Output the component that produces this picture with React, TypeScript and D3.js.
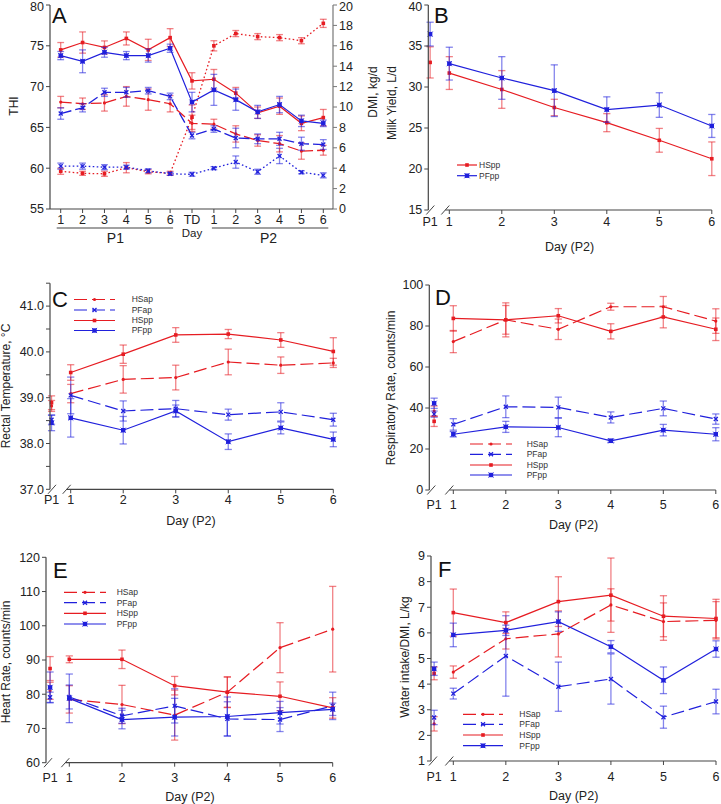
import React from "react";
import * as d3 from "d3";

const RED = "#e61c22";
const BLUE = "#2020dc";
const AXIS = "#454545";
const FONT = "'Liberation Sans', Arial, Helvetica, sans-serif";
const TICK_FS = 12.5;

// ---------- Panel A data ----------
const aCategories = ["1", "2", "3", "4", "5", "6", "TD", "1", "2", "3", "4", "5", "6"];
const aLeftTicks = [55, 60, 65, 70, 75, 80];
const aRightTicks = [0, 2, 4, 6, 8, 10, 12, 14, 16, 18, 20];
const aHSsolid = [74.5, 75.4, 74.8, 75.9, 74.5, 76.0, 70.7, 70.9, 69.2, 66.8, 67.6, 65.5, 66.2];
const aHSsolidErr = [0.9, 1.3, 0.8, 0.8, 1.3, 1.1, 1.0, 1.2, 0.7, 0.7, 1.0, 0.9, 1.0];
const aPFsolid = [73.8, 73.1, 74.2, 73.8, 73.8, 74.7, 68.1, 69.6, 68.4, 66.9, 67.8, 65.8, 65.5];
const aPFsolidErr = [0.5, 1.4, 0.6, 0.5, 0.8, 0.5, 1.2, 1.9, 1.3, 0.8, 1.0, 0.7, 0.4];
const aHSdashed = [68.1, 67.9, 68.0, 68.8, 68.4, 67.9, 65.5, 65.4, 64.2, 63.4, 63.0, 62.1, 62.2];
const aHSdashedErr = [0.7, 0.7, 1.0, 1.2, 1.3, 1.0, 1.0, 0.6, 1.0, 0.7, 1.0, 1.0, 0.6];
const aPFdashed = [66.7, 67.4, 69.3, 69.3, 69.5, 68.8, 64.0, 64.8, 63.7, 63.6, 63.6, 63.0, 62.9];
const aPFdashedErr = [0.7, 0.5, 0.5, 0.6, 0.4, 0.4, 0.4, 0.4, 1.2, 0.6, 0.8, 0.8, 0.6];
const aHSdotted = [3.7, 3.5, 3.45, 4.05, 3.65, 3.5, 9.0, 16.0, 17.2, 16.9, 16.8, 16.5, 18.2];
const aHSdottedErr = [0.3, 0.2, 0.25, 0.5, 0.2, 0.2, 1.2, 0.5, 0.3, 0.3, 0.3, 0.3, 0.4];
const aPFdotted = [4.2, 4.2, 4.1, 4.1, 3.75, 3.45, 3.4, 4.0, 4.6, 3.65, 5.2, 3.6, 3.3];
const aPFdottedErr = [0.3, 0.3, 0.25, 0.2, 0.2, 0.15, 0.2, 0.15, 0.6, 0.25, 0.75, 0.15, 0.25];

// ---------- Panels B-F shared categories ----------
const dayCategories = ["P1", "1", "2", "3", "4", "5", "6"];

// Panel B
const bTicks = [15, 20, 25, 30, 35, 40];
const bHSpp = [33.0, 31.7, 29.7, 27.5, 25.65, 23.5, 21.25];
const bHSppErr = [1.9, 2.0, 2.3, 1.0, 1.1, 1.45, 2.05];
const bPFpp = [36.45, 32.85, 31.1, 29.55, 27.25, 27.8, 25.25];
const bPFppErr = [1.45, 2.0, 2.6, 3.15, 1.55, 1.5, 1.4];

// Panel C
const cTicks = [37, 38, 39, 40, 41];
const cMinorTicks = [37.5, 38.5, 39.5, 40.5, 41.5];
const cHSap = [38.82, 39.09, 39.4, 39.44, 39.78, 39.71, 39.76];
const cHSapErr = [0.12, 0.2, 0.3, 0.27, 0.28, 0.18, 0.1];
const cPFap = [38.52, 39.05, 38.71, 38.76, 38.63, 38.69, 38.52];
const cPFapErr = [0.1, 0.4, 0.22, 0.18, 0.12, 0.2, 0.14];
const cHSpp = [38.89, 39.55, 39.95, 40.37, 40.39, 40.26, 40.01];
const cHSppErr = [0.15, 0.17, 0.2, 0.16, 0.1, 0.16, 0.3];
const cPFpp = [38.45, 38.56, 38.29, 38.71, 38.04, 38.34, 38.09];
const cPFppErr = [0.17, 0.42, 0.3, 0.13, 0.17, 0.13, 0.16];

// Panel D
const dTicks = [0, 20, 40, 60, 80, 100];
const dHSap = [38.5, 72.4, 83.0, 78.4, 89.4, 89.4, 82.4];
const dHSapErr = [2.5, 5.4, 7.0, 5.0, 1.7, 5.0, 6.0];
const dPFap = [37.0, 32.0, 40.6, 40.3, 35.4, 39.8, 34.6];
const dPFapErr = [1.5, 2.8, 5.3, 5.0, 2.7, 3.6, 2.5];
const dHSpp = [33.5, 83.7, 83.0, 85.0, 77.4, 84.4, 78.4];
const dHSppErr = [2.5, 6.2, 8.3, 3.5, 3.7, 5.3, 5.5];
const dPFpp = [42.3, 27.2, 30.8, 30.5, 24.0, 29.2, 27.2];
const dPFppErr = [2.5, 1.3, 2.7, 4.5, 0.8, 2.8, 3.2];

// Panel E
const eTicks = [60, 70, 80, 90, 100, 110, 120];
const eHSap = [81.0, 78.5, 77.0, 73.9, 80.6, 93.6, 99.0];
const eHSapErr = [2.5, 4.0, 5.6, 7.3, 4.5, 7.3, 12.5];
const ePFap = [79.1, 79.2, 73.7, 76.6, 72.8, 72.6, 76.6];
const ePFapErr = [1.5, 3.5, 2.2, 5.0, 5.0, 3.5, 4.0];
const eHSpp = [87.5, 90.2, 90.2, 82.5, 80.6, 79.4, 76.0];
const eHSppErr = [3.5, 1.0, 2.7, 2.7, 4.4, 4.2, 3.0];
const ePFpp = [82.0, 78.8, 72.6, 73.3, 73.5, 74.6, 75.6];
const ePFppErr = [4.5, 7.1, 2.7, 5.5, 5.7, 3.3, 1.8];

// Panel F
const fTicks = [1, 2, 3, 4, 5, 6, 7, 8, 9];
const fHSap = [2.45, 4.47, 5.77, 5.96, 7.09, 6.44, 6.49];
const fHSapErr = [0.28, 0.24, 0.4, 0.9, 0.63, 0.73, 0.73];
const fPFap = [2.7, 3.63, 5.1, 3.9, 4.2, 2.71, 3.32];
const fPFapErr = [0.28, 0.21, 1.57, 0.96, 0.98, 0.43, 0.48];
const fHSpp = [4.42, 6.79, 6.4, 7.22, 7.47, 6.65, 6.56];
const fHSppErr = [0.25, 0.92, 0.42, 0.97, 1.45, 0.8, 0.75];
const fPFpp = [4.6, 5.92, 6.1, 6.44, 5.46, 4.15, 5.37];
const fPFppErr = [0.26, 0.46, 0.2, 0.38, 0.24, 0.52, 0.32];

type MarkerType = "dot" | "x" | "sq" | "sqx";
type Series = {
  name: string;
  values: number[];
  errors: number[];
  color: string;
  dash: string;
  marker: MarkerType;
};

const DASH = "13,5";

function Marker({ type, cx, cy, color }: { type: MarkerType; cx: number; cy: number; color: string }) {
  if (type === "dot") return <circle cx={cx} cy={cy} r={1.6} fill={color} />;
  if (type === "sq") return <rect x={cx - 1.8} y={cy - 1.8} width={3.6} height={3.6} fill={color} />;
  if (type === "x")
    return (
      <path
        d={`M${cx - 2},${cy - 2}L${cx + 2},${cy + 2}M${cx - 2},${cy + 2}L${cx + 2},${cy - 2}`}
        stroke={color}
        strokeWidth={1.3}
      />
    );
  return (
    <g>
      <rect x={cx - 2.2} y={cy - 2.2} width={4.4} height={4.4} fill={color} />
      <path
        d={`M${cx - 2.6},${cy - 2.6}L${cx + 2.6},${cy + 2.6}M${cx - 2.6},${cy + 2.6}L${cx + 2.6},${cy - 2.6}`}
        stroke={color}
        strokeWidth={0.8}
      />
    </g>
  );
}

function ErrorBar({ x, y0, y1, color, cap = 3.6 }: { x: number; y0: number; y1: number; color: string; cap?: number }) {
  return (
    <g stroke={color} strokeOpacity={0.55} strokeWidth={1.3} fill="none">
      <line x1={x} x2={x} y1={y0} y2={y1} />
      <line x1={x - cap} x2={x + cap} y1={y0} y2={y0} />
      <line x1={x - cap} x2={x + cap} y1={y1} y2={y1} />
    </g>
  );
}

function RotLabel({ text, cx, cy, size = 12 }: { text: string; cx: number; cy: number; size?: number }) {
  return (
    <text
      transform={`translate(${cx},${cy}) rotate(-90)`}
      textAnchor="middle"
      dy="0.35em"
      fontSize={size}
      fill="#222"
    >
      {text}
    </text>
  );
}

// ---------- Panel A ----------
function PanelA() {
  const left = 50,
    right = 333,
    top = 5,
    bottom = 209;
  const x = d3.scaleLinear().domain([0, aCategories.length - 1]).range([60.7, 323.3]);
  const yL = d3.scaleLinear().domain([55, 80]).range([bottom, top]);
  const yR = d3.scaleLinear().domain([0, 20]).range([bottom, top]);
  const groups: { v: number[]; e: number[]; s: any; color: string; dash: string; marker: MarkerType; w: number }[] = [
    { v: aHSdotted, e: aHSdottedErr, s: yR, color: RED, dash: "1.6,2.4", marker: "sq", w: 1.3 },
    { v: aPFdotted, e: aPFdottedErr, s: yR, color: BLUE, dash: "1.6,2.4", marker: "x", w: 1.3 },
    { v: aHSdashed, e: aHSdashedErr, s: yL, color: RED, dash: "11,4", marker: "dot", w: 1.3 },
    { v: aPFdashed, e: aPFdashedErr, s: yL, color: BLUE, dash: "11,4", marker: "x", w: 1.3 },
    { v: aHSsolid, e: aHSsolidErr, s: yL, color: RED, dash: "", marker: "sq", w: 1.2 },
    { v: aPFsolid, e: aPFsolidErr, s: yL, color: BLUE, dash: "", marker: "sqx", w: 1.2 },
  ];
  return (
    <g>
      {groups.map((g, gi) => {
        const line = d3
          .line<number>()
          .x((_, i) => x(i))
          .y((d) => g.s(d));
        return (
          <g key={gi}>
            {g.v.map((d, i) => (
              <ErrorBar key={i} x={x(i)} y0={g.s(d + g.e[i])} y1={g.s(d - g.e[i])} color={g.color} cap={3.4} />
            ))}
            <path d={line(g.v) || ""} fill="none" stroke={g.color} strokeWidth={g.w} strokeDasharray={g.dash} />
            {g.v.map((d, i) => (
              <Marker key={i} type={g.marker} cx={x(i)} cy={g.s(d)} color={g.color} />
            ))}
          </g>
        );
      })}
      {/* axes */}
      <line x1={left} x2={left} y1={top} y2={bottom} stroke={AXIS} strokeWidth={1.2} />
      <line x1={right} x2={right} y1={top} y2={bottom} stroke="#777" strokeWidth={1.2} />
      <line x1={left} x2={right} y1={bottom} y2={bottom} stroke={AXIS} strokeWidth={1.2} />
      {aLeftTicks.map((t) => (
        <g key={t}>
          <line x1={left - 4} x2={left} y1={yL(t)} y2={yL(t)} stroke={AXIS} />
          <text x={left - 6} y={Math.max(yL(t), 6.5)} dy="0.35em" textAnchor="end" fontSize={TICK_FS} fill="#222">
            {t}
          </text>
        </g>
      ))}
      {aRightTicks.map((t) => (
        <g key={t}>
          <line x1={right} x2={right + 4} y1={yR(t)} y2={yR(t)} stroke="#777" />
          <text x={right + 6} y={Math.max(yR(t), 6.5)} dy="0.35em" textAnchor="start" fontSize={TICK_FS} fill="#222">
            {t}
          </text>
        </g>
      ))}
      {aCategories.map((c, i) => (
        <g key={i}>
          <line x1={x(i)} x2={x(i)} y1={bottom} y2={bottom + 4} stroke={AXIS} />
          <text x={x(i)} y={219.5} dy="0.35em" textAnchor="middle" fontSize={TICK_FS} fill="#222">
            {c}
          </text>
        </g>
      ))}
      <line x1={x(0) - 4} x2={x(5) + 3} y1={228} y2={228} stroke={AXIS} strokeWidth={1.2} />
      <line x1={x(7) - 2} x2={x(12) + 5} y1={228} y2={228} stroke={AXIS} strokeWidth={1.2} />
      <text x={(x(0) + x(5)) / 2} y={238} dy="0.35em" textAnchor="middle" fontSize={14} fill="#222">
        P1
      </text>
      <text x={(x(7) + x(12)) / 2} y={238} dy="0.35em" textAnchor="middle" fontSize={14} fill="#222">
        P2
      </text>
      <text x={x(6)} y={232.5} dy="0.35em" textAnchor="middle" fontSize={11.5} fill="#222">
        Day
      </text>
      <text x={52} y={23} fontSize={22} fill="#111">
        A
      </text>
      <RotLabel text="THI" cx={14} cy={106} />
      <RotLabel text="DMI, kg/d" cx={373} cy={92} />
    </g>
  );
}

// ---------- Panels B-F ----------
type PanelProps = {
  letter: string;
  letterX: number;
  letterY: number;
  axisX: number;
  top: number;
  bottom: number;
  x1: number;
  x6: number;
  yDomain: [number, number];
  yTicks: number[];
  yMinor?: number[];
  fmt: (v: number) => string;
  series: Series[];
  legendX0: number;
  legendX1: number;
  legendTextX: number;
  legendY: number[];
  yLabel: string;
  yLabelX: number;
  yLabelY: number;
  tickLabelY: number;
  dayLabelY: number;
};

const P1_POS = 0.635;

function DayPanel(p: PanelProps) {
  const y = d3.scaleLinear().domain(p.yDomain).range([p.bottom, p.top]);
  const x = d3.scaleLinear().domain([1, 6]).range([p.x1, p.x6]);
  const xi = (i: number) => (i === 0 ? x(P1_POS) : x(i));
  const slash = (cx: number) => `M${cx - 4},${p.bottom + 4.5}L${cx + 4},${p.bottom - 4.5}`;
  const breakX2 = p.x1 - 4;
  return (
    <g>
      {p.series.map((s, si) => {
        const line = d3
          .line<number>()
          .x((_, i) => x(i + 1))
          .y((d) => y(d));
        return (
          <g key={si}>
            {s.values.map((d, i) => (
              <ErrorBar key={i} x={xi(i)} y0={y(d + s.errors[i])} y1={y(d - s.errors[i])} color={s.color} />
            ))}
            <path d={line(s.values.slice(1)) || ""} fill="none" stroke={s.color} strokeWidth={1.2} strokeDasharray={s.dash} />
            {s.values.map((d, i) => (
              <Marker key={i} type={s.marker} cx={xi(i)} cy={y(d)} color={s.color} />
            ))}
          </g>
        );
      })}
      <line x1={p.axisX} x2={p.axisX} y1={p.top} y2={p.bottom} stroke={AXIS} strokeWidth={1.2} />
      <line x1={breakX2} x2={p.x6} y1={p.bottom} y2={p.bottom} stroke={AXIS} strokeWidth={1.2} />
      <path d={slash(p.axisX + 2) + slash(breakX2)} stroke={AXIS} strokeWidth={1} fill="none" />
      {p.yTicks.map((t) => (
        <g key={t}>
          <line x1={p.axisX - 4} x2={p.axisX} y1={y(t)} y2={y(t)} stroke={AXIS} />
          <text x={p.axisX - 6} y={Math.max(y(t), 6.5)} dy="0.35em" textAnchor="end" fontSize={TICK_FS} fill="#222">
            {p.fmt(t)}
          </text>
        </g>
      ))}
      {(p.yMinor || []).map((t) => (
        <line key={t} x1={p.axisX - 4} x2={p.axisX} y1={y(t)} y2={y(t)} stroke={AXIS} />
      ))}
      {dayCategories.map((c, i) => (
        <g key={c}>
          {i > 0 && <line x1={xi(i)} x2={xi(i)} y1={p.bottom} y2={p.bottom + 4} stroke={AXIS} />}
          <text x={xi(i)} y={p.tickLabelY} dy="0.35em" textAnchor="middle" fontSize={TICK_FS} fill="#222">
            {c}
          </text>
        </g>
      ))}
      <text x={(p.x1 + p.x6) / 2 - 11} y={p.dayLabelY} dy="0.35em" textAnchor="middle" fontSize={12.5} fill="#222">
        Day (P2)
      </text>
      <text x={p.letterX} y={p.letterY} fontSize={22} fill="#111">
        {p.letter}
      </text>
      <RotLabel text={p.yLabel} cx={p.yLabelX} cy={p.yLabelY} />
      {p.series.map((s, si) => {
        const ly = p.legendY[si];
        if (ly === undefined) return null;
        return (
          <g key={"lg" + si}>
            <line x1={p.legendX0} x2={p.legendX1} y1={ly} y2={ly} stroke={s.color} strokeWidth={1.2} strokeDasharray={s.dash} />
            <Marker type={s.marker} cx={(p.legendX0 + p.legendX1) / 2} cy={ly} color={s.color} />
            <text x={p.legendTextX} y={ly} dy="0.35em" fontSize={8.5} fill="#333">
              {s.name}
            </text>
          </g>
        );
      })}
    </g>
  );
}

function fourSeries(hsap: number[], hsapE: number[], pfap: number[], pfapE: number[], hspp: number[], hsppE: number[], pfpp: number[], pfppE: number[]): Series[] {
  return [
    { name: "HSap", values: hsap, errors: hsapE, color: RED, dash: DASH, marker: "dot" },
    { name: "PFap", values: pfap, errors: pfapE, color: BLUE, dash: DASH, marker: "x" },
    { name: "HSpp", values: hspp, errors: hsppE, color: RED, dash: "", marker: "sq" },
    { name: "PFpp", values: pfpp, errors: pfppE, color: BLUE, dash: "", marker: "sqx" },
  ];
}

export default function App() {
  const f1 = (v: number) => v.toFixed(1);
  const f0 = (v: number) => String(v);
  return (
    <svg
      width={721}
      height={804}
      viewBox="0 0 721 804"
      style={{ position: "absolute", left: 0, top: 0, background: "#fff", fontFamily: FONT }}
    >
      <rect width={721} height={804} fill="#fff" />
      <PanelA />
      <DayPanel
        letter="B"
        letterX={434}
        letterY={23}
        axisX={428.3}
        top={5}
        bottom={210}
        x1={449.3}
        x6={711.8}
        yDomain={[15, 40]}
        yTicks={bTicks}
        fmt={f0}
        series={[
          { name: "HSpp", values: bHSpp, errors: bHSppErr, color: RED, dash: "", marker: "sq" },
          { name: "PFpp", values: bPFpp, errors: bPFppErr, color: BLUE, dash: "", marker: "sqx" },
        ]}
        legendX0={457}
        legendX1={477}
        legendTextX={479}
        legendY={[165, 175.7]}
        yLabel="Milk Yield, L/d"
        yLabelX={392}
        yLabelY={103}
        tickLabelY={221.7}
        dayLabelY={246.5}
      />
      <DayPanel
        letter="C"
        letterX={52}
        letterY={307}
        axisX={50}
        top={283.2}
        bottom={489.3}
        x1={70.7}
        x6={333.3}
        yDomain={[37, 41.5]}
        yTicks={cTicks}
        yMinor={cMinorTicks}
        fmt={f1}
        series={fourSeries(cHSap, cHSapErr, cPFap, cPFapErr, cHSpp, cHSppErr, cPFpp, cPFppErr)}
        legendX0={74}
        legendX1={115}
        legendTextX={131.7}
        legendY={[299.5, 310, 320.5, 330.5]}
        yLabel="Rectal Temperature, °C"
        yLabelX={6}
        yLabelY={386}
        tickLabelY={500}
        dayLabelY={521}
      />
      <DayPanel
        letter="D"
        letterX={435}
        letterY={305}
        axisX={429.3}
        top={285}
        bottom={490}
        x1={453.3}
        x6={715.8}
        yDomain={[0, 100]}
        yTicks={dTicks}
        fmt={f0}
        series={fourSeries(dHSap, dHSapErr, dPFap, dPFapErr, dHSpp, dHSppErr, dPFpp, dPFppErr)}
        legendX0={470}
        legendX1={512}
        legendTextX={526.7}
        legendY={[444, 454.3, 465, 475]}
        yLabel="Respiratory Rate, counts/min"
        yLabelX={391}
        yLabelY={388}
        tickLabelY={505}
        dayLabelY={525}
      />
      <DayPanel
        letter="E"
        letterX={53}
        letterY={578}
        axisX={46}
        top={557.3}
        bottom={762.7}
        x1={69.3}
        x6={332.7}
        yDomain={[60, 120]}
        yTicks={eTicks}
        fmt={f0}
        series={fourSeries(eHSap, eHSapErr, ePFap, ePFapErr, eHSpp, eHSppErr, ePFpp, ePFppErr)}
        legendX0={64}
        legendX1={106}
        legendTextX={116.7}
        legendY={[592.3, 602.7, 613.3, 624]}
        yLabel="Heart Rate, counts/min"
        yLabelX={6}
        yLabelY={662}
        tickLabelY={777.7}
        dayLabelY={796.7}
      />
      <DayPanel
        letter="F"
        letterX={438}
        letterY={577}
        axisX={431}
        top={556}
        bottom={761}
        x1={453.3}
        x6={716}
        yDomain={[1, 9]}
        yTicks={fTicks}
        fmt={f0}
        series={fourSeries(fHSap, fHSapErr, fPFap, fPFapErr, fHSpp, fHSppErr, fPFpp, fPFppErr)}
        legendX0={463}
        legendX1={503}
        legendTextX={519.3}
        legendY={[714.3, 724.3, 735, 745.7]}
        yLabel="Water intake/DMI, L/kg"
        yLabelX={405}
        yLabelY={657}
        tickLabelY={776.7}
        dayLabelY={795.7}
      />
    </svg>
  );
}
